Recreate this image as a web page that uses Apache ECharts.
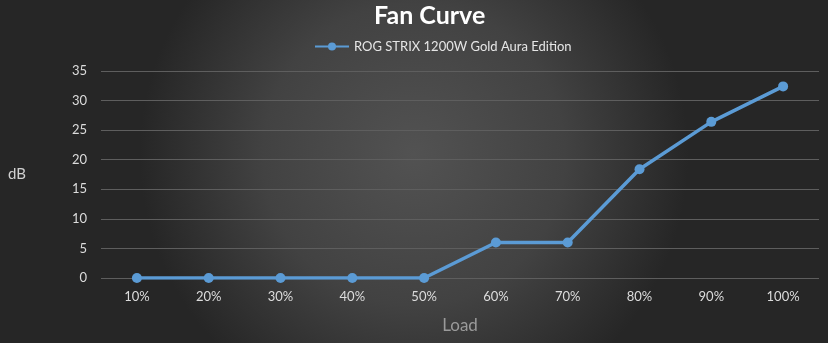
<!DOCTYPE html>
<html><head><meta charset="utf-8">
<script src="https://cdn.jsdelivr.net/npm/echarts@6/dist/echarts.min.js"></script>
<style>html,body{margin:0;padding:0;}#c{width:828px;height:343px;}</style>
</head><body><div id="c"></div>
<script>
const categories = ['10%','20%','30%','40%','50%','60%','70%','80%','90%','100%'];
const seriesName = 'ROG STRIX 1200W Gold Aura Edition';
const values = [0,0,0,0,0,6,6,18.4,26.4,32.4];
const yTicks = {min:0, max:35, interval:5};

const chart = echarts.init(document.getElementById('c'));
const font = 'Lato, "Noto Sans", sans-serif';
chart.setOption({
  backgroundColor: {type:'radial', x:0.5, y:0.45, r:0.8, colorStops:[{offset:0,color:'#525252'},{offset:0.55,color:'#424242'},{offset:1,color:'#262626'}]},
  title: {text:'Fan Curve', left:369, top:-2, textStyle:{color:'#ffffff', fontSize:25, fontWeight:'bold', fontFamily:font}},
  legend: {top:35, left:309, itemWidth:34, itemHeight:10, itemGap:4, textStyle:{color:'#e6e6e6', fontSize:13, fontFamily:font}, data:[seriesName]},
  grid: {left:101, right:9, top:71, bottom:65},
  xAxis: {type:'category', data:categories, boundaryGap:true,
    name:'Load', nameLocation:'middle', nameGap:39, nameTextStyle:{color:'#9a9a9a', fontSize:17, fontFamily:font},
    axisLine:{show:false}, axisTick:{show:false},
    axisLabel:{color:'#dcdcdc', fontSize:13, fontFamily:font, margin:12}},
  yAxis: {type:'value', min:yTicks.min, max:yTicks.max, interval:yTicks.interval,
    name:'dB', nameLocation:'middle', nameGap:75, nameRotate:0, nameTextStyle:{color:'#d0d0d0', fontSize:15, fontFamily:font},
    axisLabel:{color:'#dcdcdc', fontSize:13, fontFamily:font, margin:14},
    splitLine:{lineStyle:{color:'#5e5e5e', width:1}}},
  series: [{name:seriesName, type:'line', data:values, symbol:'circle', symbolSize:10,
    lineStyle:{color:'#5b9bd5', width:3.5}, itemStyle:{color:'#5b9bd5'}}]
});
</script></body></html>
